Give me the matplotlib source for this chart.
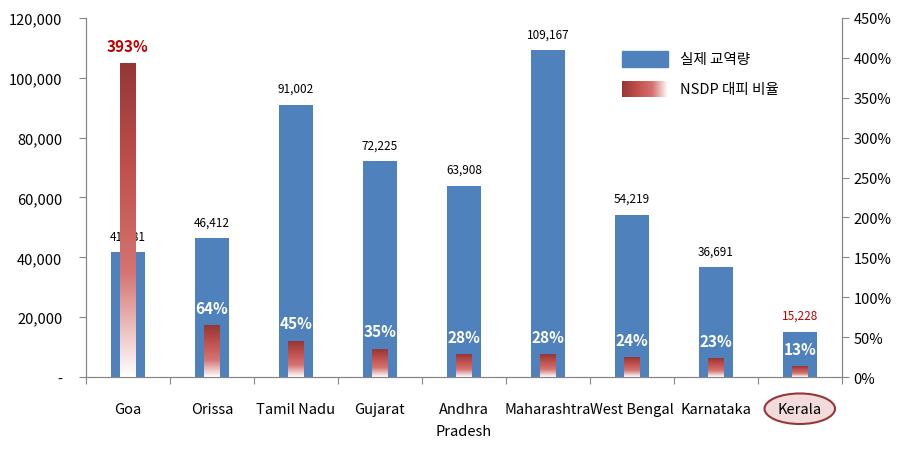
import numpy as np
import matplotlib
matplotlib.use("Agg")
import matplotlib.pyplot as plt
from matplotlib.colors import LinearSegmentedColormap
from matplotlib.patches import Rectangle, Ellipse
from matplotlib.transforms import blended_transform_factory

plt.rcParams['font.family'] = ['Noto Sans CJK KR', 'DejaVu Sans']

states = ['Goa', 'Orissa', 'Tamil Nadu', 'Gujarat', 'Andhra\nPradesh',
          'Maharashtra', 'West Bengal', 'Karnataka', 'Kerala']
trade = [41681, 46412, 91002, 72225, 63908, 109167, 54219, 36691, 15228]
ratio = [393, 64, 45, 35, 28, 28, 24, 23, 13]

blue = '#4f81bd'
dark_red = '#c00000'
grad = LinearSegmentedColormap.from_list('g', ['#ffffff', '#d47471', '#c0504d', '#953735'])
gray = '#868686'

fig = plt.figure(figsize=(9.1, 4.6), dpi=100)
ax = fig.add_axes([0.0945, 0.178, 0.8305, 0.781])
ax2 = ax.twinx()

x = np.arange(len(states))
ax.bar(x, trade, width=0.4, color=blue, zorder=2)
for xi, v in zip(x, trade):
    c = dark_red if xi == len(states) - 1 else 'black'
    ax.annotate(f'{v:,}', (xi, v), xytext=(0, 7), textcoords='offset points',
                ha='center', va='bottom', fontsize=8.5, color=c)

# gradient red bars
col = np.linspace(0, 1, 256).reshape(-1, 1)
bw = 0.19
for xi, v in zip(x, ratio):
    ax2.imshow(col, extent=[xi - bw / 2, xi + bw / 2, 0, v], origin='lower',
               aspect='auto', cmap=grad, zorder=2)
    c = dark_red if xi == 0 else 'white'
    ax2.annotate(f'{v}%', (xi, v), xytext=(0, 7), textcoords='offset points',
                 ha='center', va='bottom', fontsize=11, fontweight='bold', color=c)

ax.set_xlim(-0.5, 8.5)
ax.set_ylim(0, 120000)
ax2.set_ylim(0, 450)
ax2.set_xlim(-0.5, 8.5)

ax.set_yticks(np.arange(0, 120001, 20000))
ax.set_yticklabels(['-' if t == 0 else f'{t:,}' for t in range(0, 120001, 20000)])
ax2.set_yticks(np.arange(0, 451, 50))
ax2.set_yticklabels([f'{t}%' for t in range(0, 451, 50)])

ax.set_xticks(np.arange(-0.5, 9, 1))
ax.set_xticklabels([])
ax.set_xticks(x, minor=True)
ax.set_xticklabels(states, minor=True, fontsize=10.5, linespacing=1.7)
ax.tick_params(axis='x', which='minor', length=0, pad=18)
ax.tick_params(axis='x', which='major', length=5, color=gray)
ax.tick_params(axis='y', length=5, color=gray, labelsize=10.5, pad=12)
ax2.tick_params(axis='y', length=5, color=gray, labelsize=10.5)

for a in (ax, ax2):
    a.spines['top'].set_visible(False)
    for s in ('left', 'right', 'bottom'):
        a.spines[s].set_color(gray)

# circle around Kerala
tr = blended_transform_factory(ax.transData, ax.transAxes)
ax.add_patch(Ellipse((8, -0.088), 0.84, 0.085, transform=tr, clip_on=False,
                     facecolor='#f2dcdb', edgecolor='#953735', lw=1.5, zorder=0))

# legend
fig.patches.append(Rectangle((622 / 910, 1 - 68 / 460), 46 / 910, 16 / 460,
                             transform=fig.transFigure, color=blue))
lax = fig.add_axes([622 / 910, 1 - 98 / 460, 46 / 910, 16 / 460])
lax.imshow(np.linspace(1, 0, 256).reshape(1, -1), cmap=grad, aspect='auto')
lax.axis('off')
fig.text(680 / 910, 1 - 60 / 460, '실제 교역량', fontsize=10.5, va='center')
fig.text(680 / 910, 1 - 90 / 460, 'NSDP 대피 비율', fontsize=10.5, va='center')

fig.savefig('out.png', dpi=100)
